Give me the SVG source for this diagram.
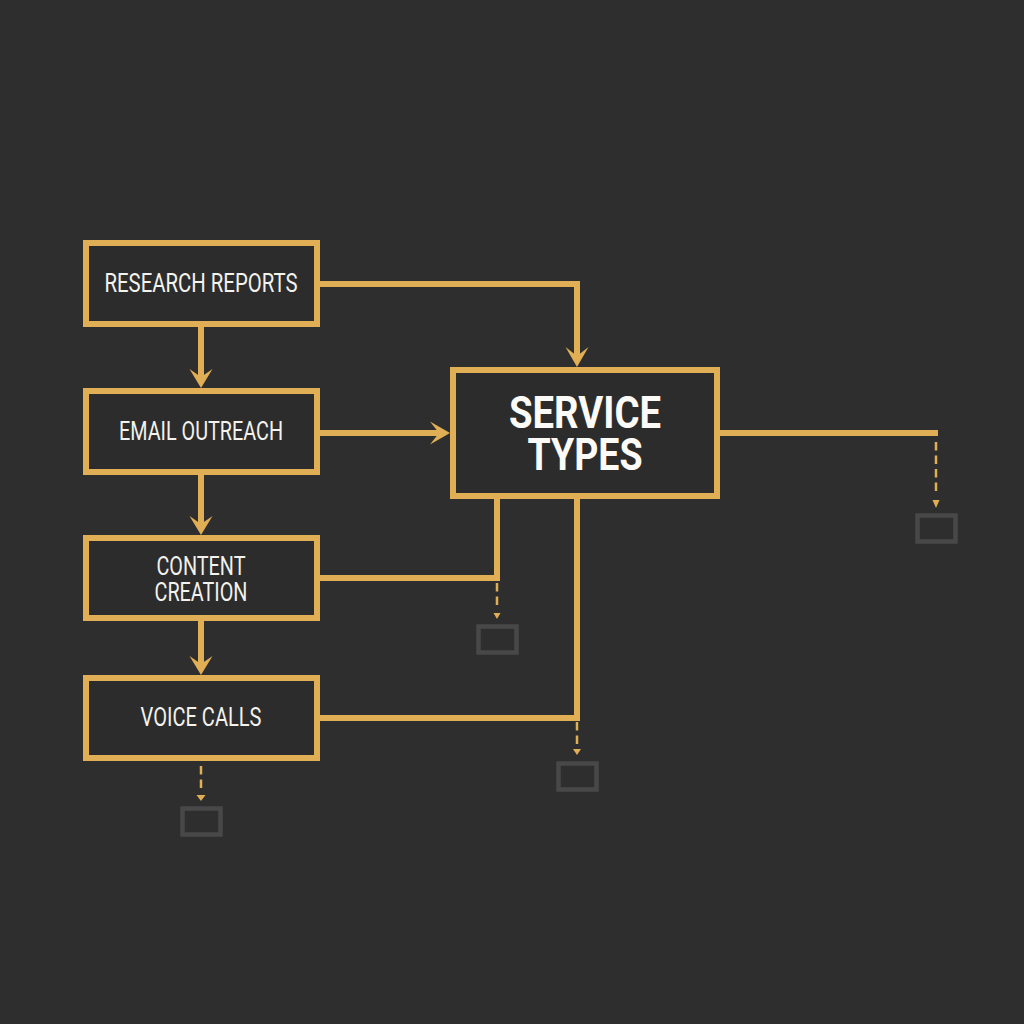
<svg xmlns="http://www.w3.org/2000/svg" width="1024" height="1024" viewBox="0 0 1024 1024">
<defs>
<style>
.box{fill:#2c2c2c;stroke:#dfae55;stroke-width:6}
.lab{fill:#f4f2ec;font-family:"Roboto",sans-serif;font-size:26px;text-anchor:middle}
.big{fill:#fbfaf6;font-family:"Roboto",sans-serif;font-size:45px;font-weight:700;text-anchor:middle}
.wire{fill:none;stroke:#dfae55;stroke-width:6}
.dash{fill:none;stroke:#dfae55;stroke-width:2.5;stroke-dasharray:8.500 5}
.head{fill:#dfae55}
.ghost{fill:none;stroke:#484848;stroke-width:4.5}
</style>
</defs>
<rect width="1024" height="1024" fill="#2e2e2e"/>
<g id="connectors">
<path class="wire" d="M320 284H577V360"/>
<path class="head" d="M565.500 347L577 367L588.500 347L577 356Z"/>
<path class="wire" d="M201 327V381"/>
<path class="head" d="M189.500 369L201 388L212.500 369L201 377Z"/>
<path class="wire" d="M320 433H443"/>
<path class="head" d="M430 421.500L450 433L430 444.500L439 433Z"/>
<path class="wire" d="M201 475V528"/>
<path class="head" d="M189.500 516L201 535L212.500 516L201 524Z"/>
<path class="wire" d="M201 621V668"/>
<path class="head" d="M189.500 656L201 675L212.500 656L201 664Z"/>
<path class="wire" d="M320 578H497V499"/>
<path class="wire" d="M320 718H577V499"/>
<path class="wire" d="M720 433H938"/>
<path class="dash" d="M936 442V495"/>
<path class="head" d="M932.500 500L936 508L939.500 500Z"/>
<path class="dash" d="M201 766V790"/>
<path class="head" d="M196.500 795L201 801L205.500 795Z"/>
<path class="dash" d="M497 583V607"/>
<path class="head" d="M493.500 613L497 619L500.500 613Z"/>
<path class="dash" d="M577 722V744"/>
<path class="head" d="M573 749L577 755L581 749Z"/>
</g>
<g id="research-reports"><rect class="box" x="86" y="243" width="231" height="81"/><text class="lab" x="201" y="292" textLength="193" lengthAdjust="spacingAndGlyphs">RESEARCH REPORTS</text></g>
<g id="email-outreach"><rect class="box" x="86" y="391" width="231" height="81"/><text class="lab" x="201" y="440" textLength="164" lengthAdjust="spacingAndGlyphs">EMAIL OUTREACH</text></g>
<g id="content-creation"><rect class="box" x="86" y="538" width="231" height="80"/><text class="lab"><tspan x="201" y="575" textLength="89" lengthAdjust="spacingAndGlyphs">CONTENT</tspan><tspan x="201" y="601" textLength="93" lengthAdjust="spacingAndGlyphs">CREATION</tspan></text></g>
<g id="voice-calls"><rect class="box" x="86" y="678" width="231" height="80"/><text class="lab" x="201" y="726" textLength="121" lengthAdjust="spacingAndGlyphs">VOICE CALLS</text></g>
<g id="service-types"><rect class="box" x="453" y="370" width="264" height="126"/><text class="big"><tspan x="585" y="428" textLength="152" lengthAdjust="spacingAndGlyphs">SERVICE</tspan><tspan x="585" y="470" textLength="115" lengthAdjust="spacingAndGlyphs">TYPES</tspan></text></g>
<g id="stub-right"><rect class="ghost" x="917.500" y="515.500" width="38" height="26"/></g>
<g id="stub-content"><rect class="ghost" x="478.500" y="626.500" width="38" height="26"/></g>
<g id="stub-service"><rect class="ghost" x="558.500" y="763.500" width="38" height="26"/></g>
<g id="stub-voice"><rect class="ghost" x="182.500" y="808.500" width="38" height="26"/></g>
</svg>
